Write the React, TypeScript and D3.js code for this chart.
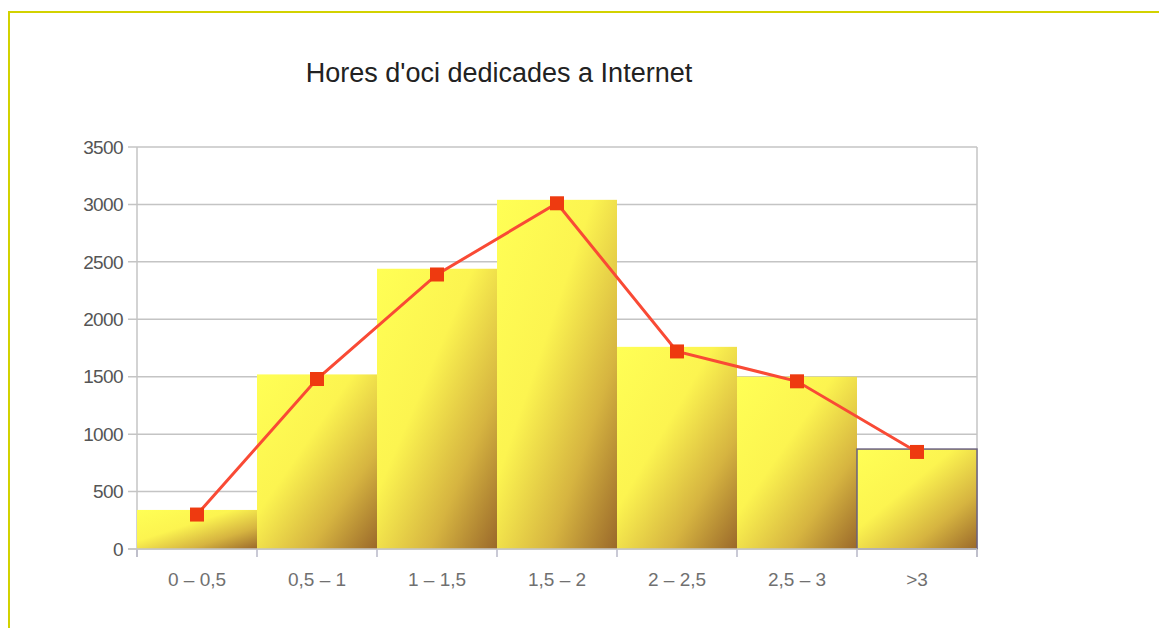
import React, { useEffect, useRef } from 'react';
import * as d3 from 'd3';

const categories = ['0 – 0,5', '0,5 – 1', '1 – 1,5', '1,5 – 2', '2 – 2,5', '2,5 – 3', '>3'];
const barValues = [340, 1520, 2440, 3040, 1760, 1500, 870];
const lineValues = [300, 1480, 2390, 3010, 1720, 1460, 845];
const yTicks = [0, 500, 1000, 1500, 2000, 2500, 3000, 3500];
const title = "Hores d'oci dedicades a Internet";

const App: React.FC = () => {
  const svgRef = useRef<SVGSVGElement>(null);

  useEffect(() => {
    if (!svgRef.current) return;
    const width = 1159;
    const height = 628;
    const margin = { top: 147, right: 182, bottom: 79, left: 137 };
    const innerW = width - margin.left - margin.right;
    const innerH = height - margin.top - margin.bottom;

    const root = d3.select(svgRef.current);
    root.selectAll('*').remove();
    root.attr('width', width).attr('height', height);

    const defs = root.append('defs');
    const grad = defs
      .append('linearGradient')
      .attr('id', 'barGrad')
      .attr('x1', 0)
      .attr('y1', 0)
      .attr('x2', 1)
      .attr('y2', 1);
    grad.append('stop').attr('offset', '0').attr('stop-color', '#ffff55');
    grad.append('stop').attr('offset', '0.4').attr('stop-color', '#fcf450');
    grad.append('stop').attr('offset', '0.72').attr('stop-color', '#d6b440');
    grad.append('stop').attr('offset', '1').attr('stop-color', '#9a682a');

    // outer frame
    root
      .append('rect')
      .attr('x', 9)
      .attr('y', 12)
      .attr('width', width + 20)
      .attr('height', height + 20)
      .attr('fill', 'none')
      .attr('stroke', '#d2d200')
      .attr('stroke-width', 2);

    root
      .append('text')
      .attr('x', 499)
      .attr('y', 82)
      .attr('text-anchor', 'middle')
      .attr('font-family', 'Liberation Sans, Arial, sans-serif')
      .attr('font-size', 27)
      .attr('fill', '#222')
      .text(title);

    const g = root.append('g').attr('transform', `translate(${margin.left},${margin.top})`);

    const x = d3.scaleBand<string>().domain(categories).range([0, innerW]).padding(0);
    const y = d3.scaleLinear().domain([0, 3500]).range([innerH, 0]);

    // grid
    g.append('g')
      .selectAll('line')
      .data(yTicks)
      .join('line')
      .attr('x1', -9)
      .attr('x2', innerW)
      .attr('y1', (d) => y(d))
      .attr('y2', (d) => y(d))
      .attr('stroke', '#c4c4c4')
      .attr('stroke-width', 1.5);

    // frame right & left
    g.append('line')
      .attr('x1', innerW)
      .attr('x2', innerW)
      .attr('y1', 0)
      .attr('y2', innerH + 8)
      .attr('stroke', '#c4c4c4')
      .attr('stroke-width', 1.5);
    g.append('line')
      .attr('x1', 0)
      .attr('x2', 0)
      .attr('y1', 0)
      .attr('y2', innerH + 8)
      .attr('stroke', '#c4c4c4')
      .attr('stroke-width', 1.5);

    // bars
    g.append('g')
      .selectAll('rect')
      .data(barValues)
      .join('rect')
      .attr('x', (_, i) => x(categories[i])!)
      .attr('y', (d) => y(d))
      .attr('width', x.bandwidth())
      .attr('height', (d) => innerH - y(d))
      .attr('fill', 'url(#barGrad)')
      .attr('stroke', (_, i) => (i === categories.length - 1 ? '#6a6080' : 'none'))
      .attr('stroke-width', 1.5);

    // bottom ticks at category boundaries
    g.append('g')
      .selectAll('line')
      .data(d3.range(categories.length + 1))
      .join('line')
      .attr('x1', (i) => i * x.step())
      .attr('x2', (i) => i * x.step())
      .attr('y1', innerH)
      .attr('y2', innerH + 8)
      .attr('stroke', '#b8b8c8')
      .attr('stroke-width', 1.5);

    g.append('line')
      .attr('x1', -9)
      .attr('x2', innerW)
      .attr('y1', innerH)
      .attr('y2', innerH)
      .attr('stroke', '#c4c4c4')
      .attr('stroke-width', 1.5);

    // y labels
    g.append('g')
      .selectAll('text')
      .data(yTicks)
      .join('text')
      .attr('x', -14)
      .attr('y', (d) => y(d))
      .attr('dy', '0.35em')
      .attr('text-anchor', 'end')
      .attr('font-family', 'Liberation Sans, Arial, sans-serif')
      .attr('font-size', 19)
      .attr('letter-spacing', -0.6)
      .attr('fill', '#555')
      .text((d) => String(d));

    // x labels
    g.append('g')
      .selectAll('text')
      .data(categories)
      .join('text')
      .attr('x', (d) => x(d)! + x.bandwidth() / 2)
      .attr('y', innerH + 30)
      .attr('dy', '0.35em')
      .attr('text-anchor', 'middle')
      .attr('font-family', 'Liberation Sans, Arial, sans-serif')
      .attr('font-size', 19)
      .attr('fill', '#707070')
      .text((d) => d);

    // line series
    const line = d3
      .line<number>()
      .x((_, i) => x(categories[i])! + x.bandwidth() / 2)
      .y((d) => y(d));

    g.append('path')
      .datum(lineValues)
      .attr('fill', 'none')
      .attr('stroke', '#f94a35')
      .attr('stroke-width', 3)
      .attr('d', line);

    const s = 14;
    g.append('g')
      .selectAll('rect')
      .data(lineValues)
      .join('rect')
      .attr('x', (_, i) => x(categories[i])! + x.bandwidth() / 2 - s / 2)
      .attr('y', (d) => y(d) - s / 2)
      .attr('width', s)
      .attr('height', s)
      .attr('fill', '#ee3a10');
  }, []);

  return (
    <svg
      ref={svgRef}
      style={{ position: 'absolute', left: 0, top: 0, background: '#fff' }}
    ></svg>
  );
};

export default App;
